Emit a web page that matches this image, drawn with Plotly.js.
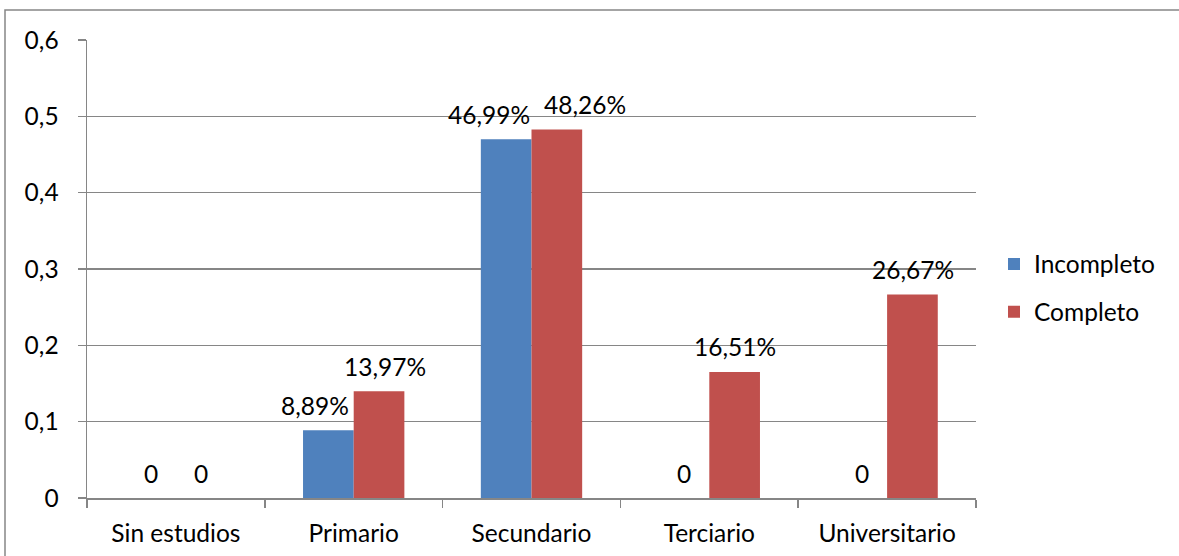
<!DOCTYPE html>
<html>
<head>
<meta charset="utf-8">
<script src="https://cdn.plot.ly/plotly-3.0.1.min.js"></script>
<style>html,body{margin:0;padding:0;background:#fff;}#chart{width:1179px;height:556px;}</style>
</head>
<body>
<div id="chart"></div>
<script>
const categories = ["Sin estudios", "Primario", "Secundario", "Terciario", "Universitario"];
const incompleto = [0, 0.0889, 0.4699, 0, 0];
const completo = [0, 0.1397, 0.4826, 0.1651, 0.2667];
const incompletoLabels = ["0", "8,89%", "46,99%", "0", "0"];
const completoLabels = ["0", "13,97%", "48,26%", "16,51%", "26,67%"];
const yTickVals = [0, 0.1, 0.2, 0.3, 0.4, 0.5, 0.6];
const yTickText = ["0", "0,1", "0,2", "0,3", "0,4", "0,5", "0,6"];

// label nudges (style only)
const incShift = [0, -13, -17, 0, 0];
const comShift = [0, 6, 28, 0, 0];

const W = 1179, H = 556;
const M = {l: 87, r: 203, t: 40, b: 58};
const pw = W - M.l - M.r, ph = H - M.t - M.b;
const px = v => (v - M.l) / pw;
const py = v => (H - M.b - v) / ph;

const FONT = "Lato, 'Open Sans', sans-serif";
const FS = 24.5;
const BLUE = "#4F81BD", RED = "#C0504D";

const traces = [
  {type: "bar", name: "Incompleto", x: categories, y: incompleto, marker: {color: BLUE}, legendgroup: "a", hoverinfo: "none"},
  {type: "bar", name: "Completo", x: categories, y: completo, marker: {color: RED}, legendgroup: "b", hoverinfo: "none"}
];

const annotations = [];
categories.forEach((c, i) => {
  annotations.push({x: c, y: incompleto[i], xref: "x", yref: "y", text: incompletoLabels[i], showarrow: false,
    xshift: -25.4 + incShift[i], yshift: 25, yanchor: "middle", font: {family: FONT, size: FS, color: "#000"}});
  annotations.push({x: c, y: completo[i], xref: "x", yref: "y", text: completoLabels[i], showarrow: false,
    xshift: 25.4 + comShift[i], yshift: 25, yanchor: "middle", font: {family: FONT, size: FS, color: "#000"}});
});

const layout = {
  width: W, height: H,
  margin: M,
  paper_bgcolor: "#fff", plot_bgcolor: "#fff",
  font: {family: FONT, size: FS, color: "#000"},
  barmode: "group", bargap: 0.43, bargroupgap: 0,
  showlegend: true,
  legend: {x: px(994), y: py(288), xanchor: "left", yanchor: "middle", tracegroupgap: 13,
    font: {family: FONT, size: FS, color: "#000"}, bgcolor: "rgba(0,0,0,0)"},
  xaxis: {type: "category", range: [-0.5, 4.5], showline: true, linecolor: "#868686", linewidth: 1.5,
    ticks: "outside", tickson: "boundaries", ticklen: 8, tickcolor: "#868686", tickwidth: 1.5,
    showgrid: false, zeroline: false, ticklabelstandoff: 13, tickfont: {family: FONT, size: FS, color: "#000"}},
  yaxis: {range: [0, 0.6], tickvals: yTickVals, ticktext: yTickText, showline: true, linecolor: "#868686", linewidth: 1.5,
    ticks: "outside", ticklen: 8, tickcolor: "#868686", tickwidth: 1.5, showgrid: true, gridcolor: "#868686", gridwidth: 1.5,
    zeroline: false, ticklabelstandoff: 14, tickfont: {family: FONT, size: FS, color: "#000"}},
  annotations: annotations,
  shapes: [{type: "rect", xref: "paper", yref: "paper", x0: px(5), x1: px(1400), y0: py(800), y1: py(10),
    line: {color: "#868686", width: 1.5}, fillcolor: "rgba(0,0,0,0)", layer: "below"}]
};

Plotly.newPlot("chart", traces, layout, {displayModeBar: false, staticPlot: true});
</script>
</body>
</html>
